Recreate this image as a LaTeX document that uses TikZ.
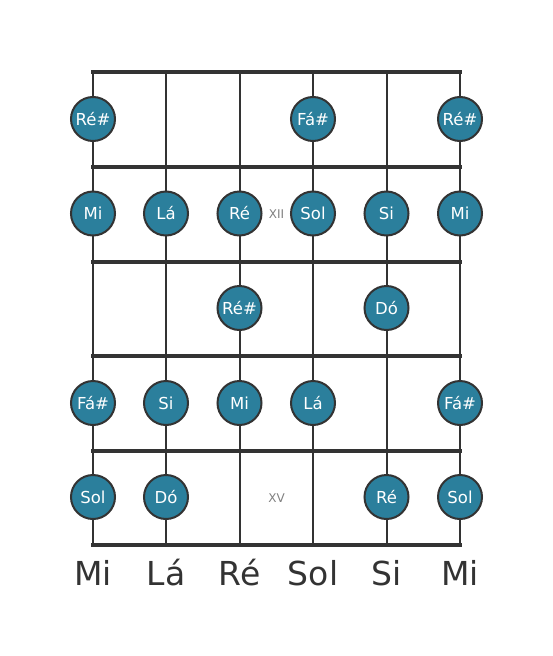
\documentclass[tikz,border=0pt]{standalone}
\usepackage{fontspec}
\setmainfont{DejaVu Sans}
\usetikzlibrary{positioning}
\definecolor{linegray}{HTML}{333333}
\definecolor{noteblue}{HTML}{2B7F9C}
\tikzset{
	fret/.style={draw=linegray,line width=4pt,line cap=rect},
	string/.style={draw=linegray,line width=2pt},
	note/.style={circle,draw=linegray,line width=2pt,fill=noteblue,text=white,minimum size=44pt,inner sep=0pt,font=\fontsize{16.5}{16.5}\selectfont},
	fretmark/.style={text=gray,font=\fontsize{12}{12}\selectfont},
	tuning/.style={text=linegray,font=\fontsize{33}{33}\selectfont}
}

\begin{document}
\begin{tikzpicture}[x=1pt,y=-1pt]
		\useasboundingbox (0,0) rectangle (553,656);
		
		% strings
		\foreach \s/\x in {1/93,2/166,3/239.5,4/313,5/386.5,6/460} {
			\coordinate (top\s) at (\x,72);
			\coordinate (bot\s) at (\x,545);
			\draw[string] (top\s) -- (bot\s);
		}
		% frets
		\foreach \f/\y in {0/72,1/167,2/261.5,3/356,4/450.5,5/545} {
			\coordinate (fl\f) at (93,\y);
			\coordinate (fr\f) at (460,\y);
			\draw[fret] (fl\f) -- (fr\f);
		}
		
		\node[fretmark] (xii) at (276.5,214) {XII};
		\node[fretmark] (xv) at (276.5,498) {XV};
		
		% fret 12
		\node[note] (a1) at (93,119) {Ré\#};
		\node[note] (a4) at (313,119) {Fá\#};
		\node[note] (a6) at (460,119) {Ré\#};
		
		% fret 13
		\node[note] (b1) at (93,213.5) {Mi};
		\node[note] (b2) at (166,213.5) {Lá};
		\node[note] (b3) at (239.5,213.5) {Ré};
		\node[note] (b4) at (313,213.5) {Sol};
		\node[note] (b5) at (386.5,213.5) {Si};
		\node[note] (b6) at (460,213.5) {Mi};
		
		% fret 14
		\node[note] (c3) at (239.5,308) {Ré\#};
		\node[note] (c5) at (386.5,308) {Dó};
		
		% fret 15
		\node[note] (d1) at (93,403) {Fá\#};
		\node[note] (d2) at (166,403) {Si};
		\node[note] (d3) at (239.5,403) {Mi};
		\node[note] (d4) at (313,403) {Lá};
		\node[note] (d6) at (460,403) {Fá\#};
		
		% fret 16
		\node[note] (e1) at (93,497) {Sol};
		\node[note] (e2) at (166,497) {Dó};
		\node[note] (e5) at (386.5,497) {Ré};
		\node[note] (e6) at (460,497) {Sol};
		
		% open strings
		\node[tuning] (t1) at (93,573) {Mi};
		\node[tuning] (t2) at (166,573) {Lá};
		\node[tuning] (t3) at (239.5,573) {Ré};
		\node[tuning] (t4) at (313,573) {Sol};
		\node[tuning] (t5) at (386.5,573) {Si};
		\node[tuning] (t6) at (460,573) {Mi};
	\end{tikzpicture}
\end{document}
